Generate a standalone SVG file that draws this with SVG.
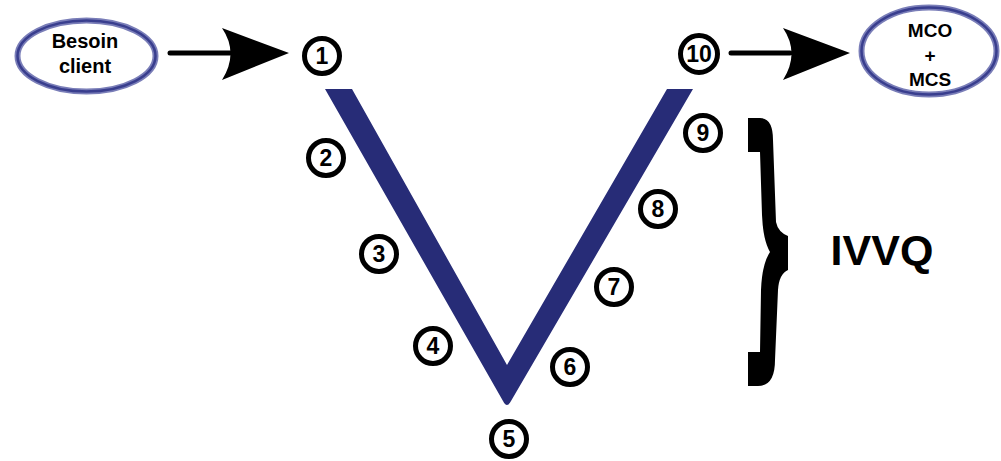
<svg xmlns="http://www.w3.org/2000/svg" width="1001" height="461" viewBox="0 0 1001 461">
  <style>
    .oval { fill: #ffffff; stroke: #7a7eb8; stroke-width: 6; }
    .oval-in { fill: none; stroke: #393e8e; stroke-width: 2.5; }
    .lbl { font-family: "Liberation Sans", Arial, sans-serif; font-weight: bold; fill: #000; text-anchor: middle; }
    .ring { fill: #ffffff; stroke: #000; stroke-width: 5; }
    .num { font-family: "Liberation Sans", Arial, sans-serif; font-weight: bold; font-size: 23px; fill: #000; text-anchor: middle; }
    .shaft { stroke: #000; stroke-width: 5; stroke-linecap: round; fill: none; }
    .head { fill: #000; }
  </style>
  <rect width="1001" height="461" fill="#ffffff"/>

  <g id="v-shape">
    <path d="M 325 89 L 352 89 L 507 365 L 667 89 L 693 89 L 511 401 Q 507 409 503 401 Z" fill="#272c77"/>
  </g>

  <g id="connectors">
    <line class="shaft" x1="170" y1="53" x2="230" y2="53"/>
    <path class="head" d="M 289 53 L 222 28 Q 239 53 222 80 Z"/>
    <line class="shaft" x1="731" y1="53" x2="790" y2="53"/>
    <path class="head" d="M 850 53 L 783 28 Q 800 53 783 80 Z"/>
  </g>

  <g id="besoin-client">
    <ellipse class="oval" cx="86.5" cy="56" rx="69" ry="35.5"/>
    <ellipse class="oval-in" cx="86.5" cy="56" rx="69" ry="35.5"/>
    <text class="lbl" x="85" y="48" font-size="20">Besoin</text>
    <text class="lbl" x="85" y="73" font-size="20">client</text>
  </g>

  <g id="mco-mcs">
    <ellipse class="oval" cx="929" cy="51" rx="67.5" ry="43.5"/>
    <ellipse class="oval-in" cx="929" cy="51" rx="67.5" ry="43.5"/>
    <text class="lbl" x="930" y="37" font-size="19">MCO</text>
    <text class="lbl" x="930" y="62" font-size="19">+</text>
    <text class="lbl" x="930" y="86" font-size="19">MCS</text>
  </g>

  <g id="step-1"><circle class="ring" cx="322" cy="56" r="17.5"/><text class="num" x="322" y="64">1</text></g>
  <g id="step-2"><circle class="ring" cx="326" cy="158" r="17.5"/><text class="num" x="326" y="166">2</text></g>
  <g id="step-3"><circle class="ring" cx="379" cy="254" r="17.5"/><text class="num" x="379" y="262">3</text></g>
  <g id="step-4"><circle class="ring" cx="433" cy="346" r="17.5"/><text class="num" x="433" y="354">4</text></g>
  <g id="step-5"><circle class="ring" cx="509" cy="439" r="17.5"/><text class="num" x="509" y="447">5</text></g>
  <g id="step-6"><circle class="ring" cx="570" cy="367" r="17.5"/><text class="num" x="570" y="375">6</text></g>
  <g id="step-7"><circle class="ring" cx="614" cy="287" r="17.5"/><text class="num" x="614" y="295">7</text></g>
  <g id="step-8"><circle class="ring" cx="658" cy="209" r="17.5"/><text class="num" x="658" y="217">8</text></g>
  <g id="step-9"><circle class="ring" cx="703" cy="133" r="17.5"/><text class="num" x="703" y="141">9</text></g>
  <g id="step-10"><circle class="ring" cx="699" cy="54" r="18.5"/><text class="num" x="699" y="62">10</text></g>

  <g id="ivvq">
    <path d="M 748 118 L 760 118 Q 773 118 773 140 L 776 222 Q 778 232 788 236 L 788 270 Q 779 274 778 290 L 775 360 Q 775 386 758 386 L 748 386 L 748 352 L 760 352 L 761 290 Q 762 264 770 252 Q 763 240 762 215 L 760 152 L 748 152 Z" fill="#000"/>
    <text class="lbl" x="882" y="265" font-size="43">IVVQ</text>
  </g>
</svg>
